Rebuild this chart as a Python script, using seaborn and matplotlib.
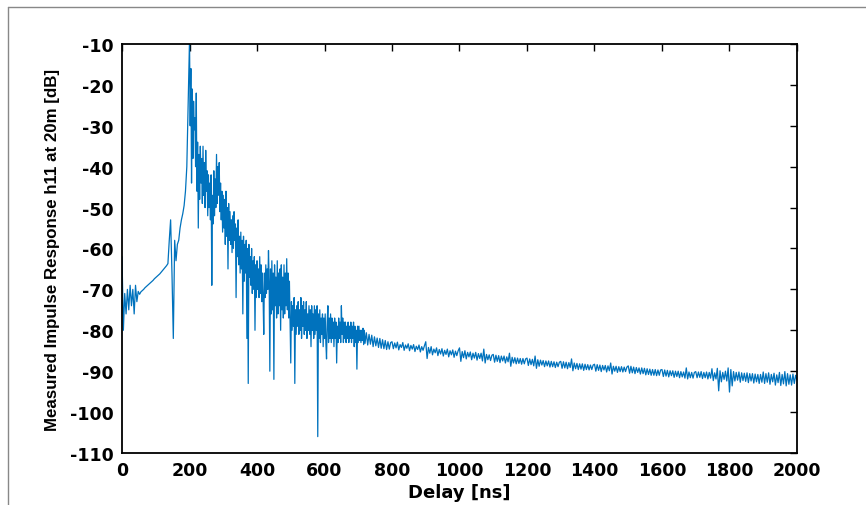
import numpy as np
import matplotlib
matplotlib.use("Agg")
import matplotlib.pyplot as plt
from matplotlib.lines import Line2D
import pandas as pd
import seaborn as sns

# delay grid [ns]: finer where the response is busy
delay_rise = np.arange(0, 200, 4)
delay_burst = np.arange(200, 720, 2)
delay_settle = np.arange(720, 800, 4)
delay_tail = np.arange(800, 2001, 4)

# measured |h11| in dB
h11_rise = [
    -62, -80, -71, -76, -70, -75, -69, -74, -70, -76, -69, -73, -70.5, -71.2, -70.6, -70.3, -70.0, -69.6, -69.3, -69.0, -68.7, -68.4, -68.1, -67.8, -67.4,
    -67.1, -66.8, -66.5, -66.2, -65.8, -65.4, -65.0, -64.6, -64.2, -63.7, -58, -53, -66, -82, -58, -63, -59, -58, -55, -53, -51.5, -49.5, -46, -40, -25,
]
h11_burst = [
    -9, -30, -16, -44, -21, -38, -24, -31, -28, -40,
    -22, -46, -34, -55, -37, -48, -35, -44, -38, -49,
    -35, -47, -39, -50, -36, -46, -41, -52, -42, -50,
    -44, -53, -42, -69, -47, -54, -41, -52, -43, -50,
    -37, -49, -40, -47, -39, -51, -44, -53, -46, -56,
    -47, -55, -48, -59, -46, -57, -50, -65, -49, -58,
    -51, -59, -53, -61, -52, -60, -51, -58, -54, -72,
    -55, -62, -53, -64, -57, -66, -56, -65, -58, -76,
    -57, -68, -59, -66, -58, -82, -60, -93, -59, -67,
    -62, -69, -60, -71, -63, -70, -62, -80, -64, -72,
    -63, -70, -65, -72, -62, -71, -64, -73, -66, -72,
    -81, -66, -72, -64, -71, -65, -70, -60.5, -68, -90,
    -65, -76, -63, -75, -66, -92, -64, -74, -67, -77,
    -63, -76, -66, -74, -65, -80, -64, -75, -67, -77,
    -64, -76, -66, -74, -62.5, -75, -66, -77, -68, -78,
    -88, -73, -80, -74, -79, -72, -93, -75, -81, -74,
    -79, -73, -81, -75, -80, -72, -82, -74, -79, -73,
    -81, -75, -80, -73, -82, -76, -80, -74, -81, -75,
    -84, -74, -80, -76, -82, -74, -81, -75, -80, -74,
    -106, -76, -82, -75, -83, -77, -81, -76, -84, -77,
    -82, -76, -83, -87, -78, -74, -83, -77, -82, -76,
    -83, -77, -82, -78, -84, -77, -82, -78, -88, -79,
    -83, -77, -82, -78, -83, -74, -81, -77, -83, -78,
    -82, -78, -83, -79, -82, -78, -83, -79, -82, -78,
    -83, -79, -82, -78, -84, -79, -83, -80, -89.5, -79,
    -83, -79, -82.5, -80, -83, -80, -82.5, -79.5, -83.5, -80,
]
h11_settle = [
    -83.2, -80.6, -83.6, -81, -83.4, -81.2, -84, -81.6, -83.8, -81.9,
    -84.2, -82, -84.4, -82.3, -84.5, -82.5, -84.7, -82.8, -84.6, -83,
]
h11_tail = [
    -82.8, -84.5, -83.1, -84.3, -82.9, -84.8, -83.5, -84.2, -83.0, -84.9, -83.6, -84.4, -83.3, -85.0, -83.7, -84.6, -83.5, -85.2, -83.9, -84.7, -83.6, -85.3, -84.0, -84.9, -83.8,
    -82.8, -86.9, -84.2, -85.6, -84.0, -86.0, -84.6, -85.5, -84.3, -86.2, -84.7, -85.8, -84.5, -86.3, -84.9, -85.9, -84.6, -86.5, -85.0, -86.0, -84.8, -86.6, -85.1, -86.2, -85.0,
    -84.3, -87.6, -85.2, -86.7, -85.0, -87.0, -85.4, -86.5, -85.3, -87.2, -85.6, -86.8, -85.4, -87.3, -85.7, -86.9, -85.6, -87.5, -84.6, -88.0, -85.9, -87.2, -86.0, -87.4, -86.1,
    -85.9, -87.8, -86.1, -87.6, -86.2, -87.9, -86.3, -87.5, -86.3, -88.0, -86.5, -87.7, -85.6, -88.8, -86.6, -88.0, -86.7, -88.2, -86.8, -88.1, -86.9, -88.3, -86.9, -88.2, -87.0,
    -86.8, -88.6, -87.0, -88.4, -87.1, -88.7, -86.3, -89.3, -87.2, -88.8, -87.3, -88.5, -87.4, -88.9, -87.5, -88.7, -87.5, -89.0, -87.6, -88.9, -87.7, -89.1, -87.8, -88.9, -87.8,
    -87.6, -89.3, -87.7, -89.2, -87.8, -89.4, -87.9, -89.1, -87.0, -89.9, -88.0, -89.4, -88.1, -89.6, -88.2, -89.5, -88.2, -89.8, -88.3, -89.6, -88.4, -89.7, -88.5, -89.6, -88.5,
    -88.3, -90.0, -88.4, -89.8, -88.5, -90.1, -88.6, -89.7, -88.6, -90.2, -88.7, -89.9, -88.0, -90.7, -88.8, -90.0, -88.8, -90.3, -88.9, -90.1, -88.9, -90.2, -89.0, -90.1, -89.0,
    -88.7, -90.5, -88.8, -90.4, -89.0, -90.6, -89.1, -90.3, -89.2, -90.7, -89.2, -90.6, -89.3, -90.9, -89.4, -90.8, -89.5, -91.0, -89.6, -91.0, -89.6, -91.1, -89.7, -91.0, -89.7,
    -89.6, -91.3, -89.7, -91.2, -89.8, -91.4, -89.9, -91.1, -89.9, -91.5, -90.0, -91.3, -90.0, -91.6, -90.1, -91.4, -90.2, -91.7, -89.2, -91.9, -90.2, -91.6, -90.3, -91.7, -90.3,
    -90.1, -91.6, -90.2, -91.5, -90.1, -91.8, -90.3, -91.6, -90.2, -91.9, -90.3, -91.7, -89.4, -92.3, -90.4, -91.9, -89.3, -94.8, -89.9, -92.6, -90.3, -92.0, -90.0, -92.4, -89.2,
    -95.1, -89.6, -93.6, -90.1, -92.4, -90.3, -92.2, -90.2, -92.7, -90.4, -92.3, -90.5, -92.5, -90.4, -92.8, -90.6, -92.4, -90.6, -92.9, -90.7, -92.6, -90.8, -93.0, -90.8, -92.7,
    -90.2, -93.0, -90.6, -92.7, -90.4, -93.2, -90.8, -92.6, -90.5, -93.4, -90.9, -92.8, -90.3, -93.5, -90.8, -93.1, -90.1, -93.6, -90.6, -93.2, -90.9, -93.4, -90.7, -93.0, -91.0,
    -92.2,
]

x_ticks = list(range(0, 2001, 200))
y_ticks = list(range(-110, -9, 10))

df = pd.DataFrame({
    "delay": np.concatenate([delay_rise, delay_burst, delay_settle, delay_tail]),
    "h11": h11_rise + h11_burst + h11_settle + h11_tail,
})

sns.set_style("white")
plt.rcParams["font.family"] = ["DejaVu Sans"]
plt.rcParams["axes.unicode_minus"] = False

fig = plt.figure(figsize=(8.66, 5.06), dpi=100)
ax = fig.add_axes([0.1409, 0.1028, 0.7794, 0.8083])

sns.lineplot(data=df, x="delay", y="h11", ax=ax, color="#0072BD",
             linewidth=0.9, estimator=None, sort=False)

ax.set_xlim(0, 2000)
ax.set_ylim(-110, -10)
ax.set_xticks(x_ticks)
ax.set_yticks(y_ticks)
ax.tick_params(direction="in", length=5, width=1, top=True, right=True,
               labelsize=12.5, pad=6, colors="black")
for lab in ax.get_xticklabels() + ax.get_yticklabels():
    lab.set_fontweight("bold")
for sp in ax.spines.values():
    sp.set_visible(True)
    sp.set_color("black")
    sp.set_linewidth(1.3)

ax.set_xlabel("Delay [ns]", fontsize=13, fontweight="bold", color="black",
              labelpad=3)
ax.set_ylabel("Measured Impulse Response h11 at 20m [dB]", fontsize=12.2,
              fontweight="bold", color="black", family="Liberation Sans",
              labelpad=7)

# outer frame of the cropped figure
fig.add_artist(Line2D([0.0092, 1.0], [0.984, 0.984], color="#888888", linewidth=1))
fig.add_artist(Line2D([0.0092, 0.0092], [0.0, 0.984], color="#888888", linewidth=1))

fig.savefig("out.png", dpi=100)
